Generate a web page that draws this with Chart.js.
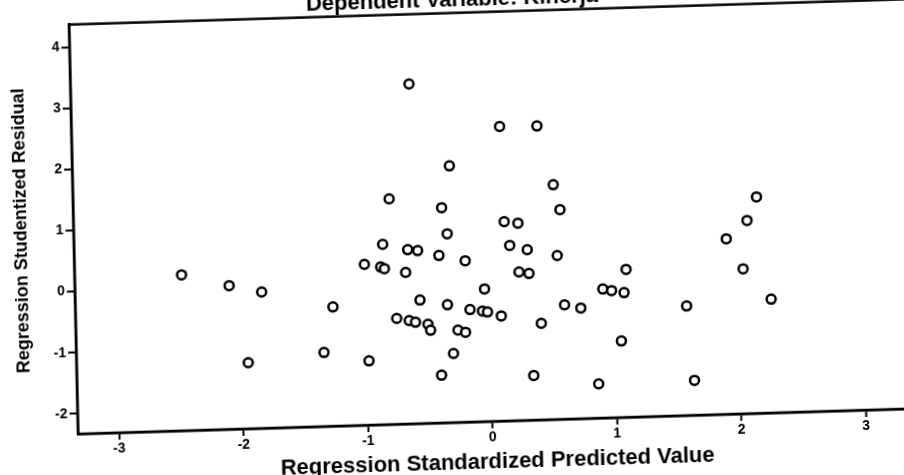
<!DOCTYPE html>
<html lang="id">
<head>
    <meta charset="UTF-8">
    <meta name="viewport" content="width=device-width, initial-scale=1.0">
    <title>Scatterplot - Dependent Variable: Kinerja</title>
    <style>
        body {
            margin: 0;
            background: #fff;
            overflow: hidden;
            width: 904px;
            height: 475px;
        }
        #wrap {
            position: absolute;
            left: 0;
            top: -30px;
        }
        /* el escaneo original esta un poco girado */
        #myChart {
            display: block;
            transform: matrix(1, -0.0303, 0.0221, 1, 0, 0);
            transform-origin: 78px 464px;
        }
    </style>
</head>
<body>
    <div id="wrap">
        <canvas id="myChart" width="923" height="530"></canvas>
    </div>

    <script src="https://cdn.jsdelivr.net/npm/chart.js"></script>
    <script>
        // Valores (predicted, residual)
        const xValues = [-0.61, -0.30, -0.79, -0.37, -0.33, 0.11, 0.41, 0.53, 0.58, 0.13,
                         0.24, 2.16, 2.08, 1.91, -0.85, -0.65, -0.57, -0.40, -0.19, -1.00,
                         -0.87, -0.84, -0.67, -2.47, -2.09, -1.83, -0.04, -0.56, -0.34, -0.16,
                         -0.06, -0.02, -1.26, -0.75, -0.65, -0.60, -0.50, -0.48, -0.26, -0.20,
                         -0.30, -1.34, -0.98, -1.95, -0.40, 0.17, 0.31, 0.55, 2.04, 1.10,
                         0.24, 0.32, 0.91, 0.98, 1.08, 2.26, 1.58, 0.09, 0.60, 0.73,
                         0.41, 1.05, 0.34, 0.86, 1.63];
        const yValues = [3.23, 1.87, 1.36, 1.19, 0.76, 2.49, 2.48, 1.51, 1.10, 0.93,
                         0.90, 1.21, 0.83, 0.54, 0.62, 0.52, 0.50, 0.41, 0.31, 0.30,
                         0.25, 0.22, 0.15, 0.22, 0.02, -0.10, -0.16, -0.31, -0.40, -0.49,
                         -0.52, -0.54, -0.38, -0.60, -0.64, -0.67, -0.71, -0.81, -0.82, -0.86,
                         -1.20, -1.12, -1.28, -1.25, -1.55, 0.54, 0.46, 0.35, 0.04, 0.09,
                         0.10, 0.07, -0.22, -0.25, -0.29, -0.47, -0.54, -0.61, -0.46, -0.52,
                         -0.75, -1.08, -1.60, -1.77, -1.76];

        const xTicks = [-3, -2, -1, 0, 1, 2, 3];
        const xTickLabels = ['-3', '-2', '-1', '0', '1', '2', '3'];
        const yTicks = [-2, -1, 0, 1, 2, 3, 4];
        const yTickLabels = ['-2', '-1', '0', '1', '2', '3', '4'];

        const chartTitle = 'Dependent Variable: Kinerja';
        const xTitle = 'Regression Standardized Predicted Value';
        const yTitle = 'Regression Studentized Residual';

        const points = xValues.map((x, i) => ({ x: x, y: yValues[i] }));

        // Marco completo alrededor del area del grafico
        const marco = {
            id: 'marco',
            afterDraw(chart) {
                const { ctx, chartArea: a } = chart;
                ctx.save();
                ctx.strokeStyle = '#000';
                ctx.lineWidth = 2.5;
                ctx.strokeRect(a.left, a.top, a.right - a.left, a.bottom - a.top);
                ctx.restore();
            }
        };

        const fuente = 'Liberation Sans, Arial, sans-serif';
        Chart.defaults.color = '#000';

        const ctx = document.getElementById('myChart').getContext('2d');
        new Chart(ctx, {
            type: 'scatter',
            data: {
                datasets: [{
                    data: points,
                    pointStyle: 'circle',
                    pointRadius: 4.5,
                    pointHoverRadius: 4.5,
                    borderWidth: 2.5,
                    borderColor: '#000',
                    backgroundColor: '#fff'
                }]
            },
            options: {
                responsive: false,
                animation: false,
                layout: { padding: 0 },
                plugins: {
                    legend: { display: false },
                    tooltip: { enabled: false },
                    title: {
                        display: true,
                        text: chartTitle,
                        color: '#000',
                        font: { family: fuente, size: 22, weight: 'bold', lineHeight: 1 },
                        padding: { top: 31, bottom: 1.6 }
                    }
                },
                scales: {
                    x: {
                        type: 'linear',
                        min: -3.33,
                        max: 3.4,
                        afterFit: s => { s.height = 66; },
                        afterBuildTicks: s => { s.ticks = xTicks.map(v => ({ value: v })); },
                        ticks: {
                            callback: (v, i) => xTickLabels[i],
                            font: { family: fuente, size: 14, weight: 'bold' },
                            padding: 1,
                            maxRotation: 0
                        },
                        grid: {
                            drawOnChartArea: false,
                            drawTicks: true,
                            tickLength: 7,
                            tickWidth: 2,
                            tickColor: '#000'
                        },
                        border: { display: true, color: '#000', width: 2.5 },
                        title: {
                            display: true,
                            text: xTitle,
                            color: '#000',
                            font: { family: fuente, size: 22, weight: 'bold', lineHeight: 1.2 },
                            padding: { top: 0, bottom: 12 }
                        }
                    },
                    y: {
                        type: 'linear',
                        min: -2.33,
                        max: 4.37,
                        afterFit: s => { s.width = 78; },
                        afterBuildTicks: s => { s.ticks = yTicks.map(v => ({ value: v })); },
                        ticks: {
                            callback: (v, i) => yTickLabels[i],
                            font: { family: fuente, size: 14, weight: 'bold' },
                            padding: 2
                        },
                        grid: {
                            drawOnChartArea: false,
                            drawTicks: true,
                            tickLength: 8,
                            tickWidth: 2,
                            tickColor: '#000'
                        },
                        border: { display: true, color: '#000', width: 2.5 },
                        title: {
                            display: true,
                            text: yTitle,
                            color: '#000',
                            font: { family: fuente, size: 18, weight: 'bold', lineHeight: 1.2 },
                            padding: { top: 15, bottom: 0 }
                        }
                    }
                }
            },
            plugins: [marco]
        });
    </script>
</body>
</html>
